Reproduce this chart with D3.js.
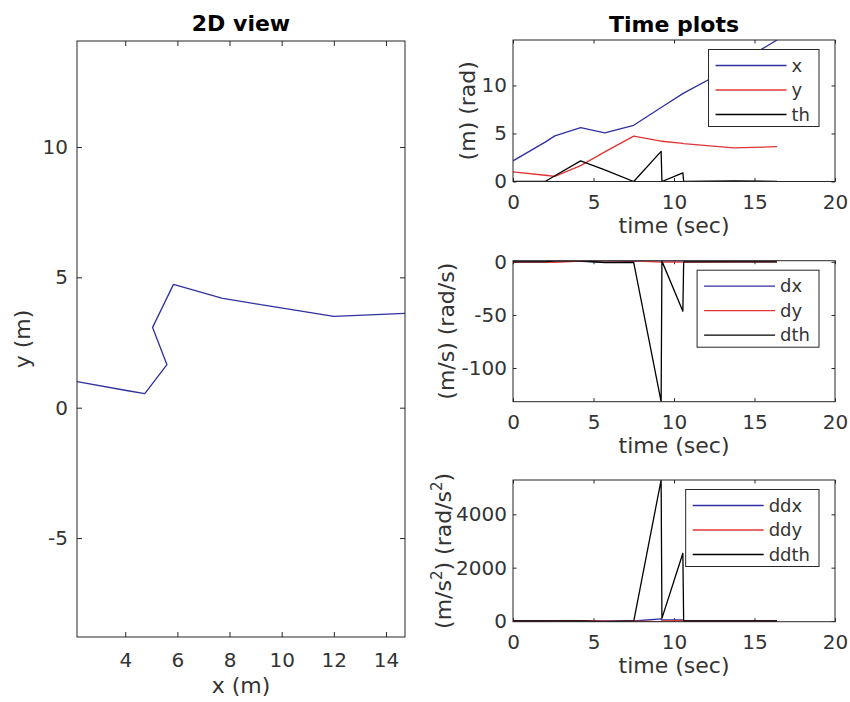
<!DOCTYPE html>
<html>
<head>
<meta charset="utf-8">
<script src="https://cdn.jsdelivr.net/npm/d3@7"></script>
<style>
  body { margin: 0; background: #fff; }
  svg { font-family: "DejaVu Sans", sans-serif; }
</style>
</head>
<body>
<svg id="fig" width="850" height="702"></svg>
<script>
// pose samples (time in sec)
const t    = [0,    2.0,  2.6,  4.2,  5.7,  7.5,  9.2,  9.25, 10.55, 10.6, 13.7, 16.4];
const xPos = [2.15, 4.1,  4.75, 5.6,  5.05, 5.85, 7.7,  7.75, 9.15,  9.2,  12.0, 14.73];
const yPos = [1.0,  0.65, 0.54, 1.65, 3.08, 4.73, 4.2,  4.19, 3.96,  3.95, 3.5,  3.62];
const th   = [0,    0,    0.6,  2.15, 1.2,  0,    3.14, 0,    0.9,   0.02, 0.05, 0.02];

// first derivatives
const dx   = [1.0,  1.0,  0.9,  0.5, -0.4,  0.45, 1.1,  1.0,  1.05,  1.0,  0.95, 1.0];
const dy   = [-0.2, -0.2, -0.5, 0.7,  1.0,  0.9, -0.3, -0.2, -0.2,  -0.2,  0.1,  0.05];
const dth  = [0,    0,    1.0,  1.0, -0.6, -0.6, -131.7, 0.7, -46.5, 0,     0,    0];

// second derivatives
const ddx  = [0,    0,   -5,  -10,    8,    0,   80,    40,   40,    0,     0,    0];
const ddy  = [0,    0,    5,   10,   -5,  -10,  -20,    0,    10,    0,     0,    0];
const ddth = [0,    0,    5,    0,  -26,    0, 5287,  100,  2540,    0,     0,    0];

const tLim = [0, 20];
const tTicks = [0, 5, 10, 15, 20];
const x2dTicks = [4, 6, 8, 10, 12, 14];
const y2dTicks = [-5, 0, 5, 10];
const posTicks = [0, 5, 10];
const dTicks = [-100, -50, 0];
const ddTicks = [0, 2000, 4000];

const axisColor = '#262626';
const textColor = '#333';
const blue = '#3030a0';
const red = '#e03434';
const black = '#000';

const svg = d3.select('#fig');
let clipId = 0;

function drawPanel(cfg) {
    let w = cfg.right - cfg.left;
    let h = cfg.bottom - cfg.top;
    let g = svg.append('g').attr('transform', `translate(${cfg.left},${cfg.top})`);

    let x = d3.scaleLinear().domain(cfg.xDomain).range([0, w]);
    let y = d3.scaleLinear().domain(cfg.yDomain).range([h, 0]);

    g.append('rect').attr('width', w).attr('height', h).attr('fill', '#fff');

    let fmt = d => String(d);
    let styleAxis = sel => {
        sel.select('.domain').remove();
        sel.selectAll('line').attr('stroke', axisColor);
        sel.selectAll('text').attr('fill', textColor).style('font-size', '20px')
            .style('font-family', '"DejaVu Sans", sans-serif');
    };

    g.append('g').attr('transform', `translate(0,${h})`)
        .call(d3.axisBottom(x).tickValues(cfg.xTicks).tickFormat(fmt)
            .tickSizeInner(-cfg.tickLen).tickSizeOuter(0).tickPadding(cfg.xPad))
        .call(styleAxis);
    g.append('g')
        .call(d3.axisLeft(y).tickValues(cfg.yTicks).tickFormat(fmt)
            .tickSizeInner(-cfg.tickLen).tickSizeOuter(0).tickPadding(cfg.yPad))
        .call(styleAxis);
    g.append('g')
        .call(d3.axisTop(x).tickValues(cfg.xTicks).tickFormat('')
            .tickSizeInner(-cfg.tickLen).tickSizeOuter(0))
        .call(styleAxis);
    g.append('g').attr('transform', `translate(${w},0)`)
        .call(d3.axisRight(y).tickValues(cfg.yTicks).tickFormat('')
            .tickSizeInner(-cfg.tickLen).tickSizeOuter(0))
        .call(styleAxis);

    let id = 'clip' + (clipId++);
    g.append('clipPath').attr('id', id)
        .append('rect').attr('width', w).attr('height', h);
    let plot = g.append('g').attr('clip-path', `url(#${id})`);

    cfg.series.forEach(s => {
        let line = d3.line()
            .x((d, i) => x(s.xs[i]))
            .y(d => y(d));
        plot.append('path')
            .datum(s.ys)
            .attr('fill', 'none')
            .attr('stroke', s.color)
            .attr('stroke-width', 1.3)
            .attr('stroke-linejoin', 'round')
            .attr('d', line);
    });

    g.append('rect').attr('width', w).attr('height', h)
        .attr('fill', 'none').attr('stroke', axisColor).attr('stroke-width', 1);

    // title
    if (cfg.title) {
        g.append('text')
            .attr('x', w / 2).attr('y', cfg.titleY - cfg.top)
            .attr('text-anchor', 'middle')
            .style('font-size', '22px').style('font-weight', 'bold')
            .attr('fill', '#000')
            .text(cfg.title);
    }

    // x label
    g.append('text')
        .attr('x', w / 2).attr('y', h + cfg.xLabelDy)
        .attr('text-anchor', 'middle')
        .style('font-size', '22px').attr('fill', textColor)
        .text(cfg.xLabel);

    // y label, parts may carry a superscript
    let yl = g.append('text')
        .attr('transform', `translate(${cfg.yLabelX - cfg.left},${h / 2}) rotate(-90)`)
        .attr('text-anchor', 'middle')
        .style('font-size', '22px').attr('fill', textColor);
    let shift = 0;
    cfg.yLabel.forEach(p => {
        let ts = yl.append('tspan').text(p.s);
        if (p.sup) {
            ts.style('font-size', '15px').attr('dy', -9);
            shift = 9;
        } else if (shift) {
            ts.attr('dy', shift);
            shift = 0;
        }
    });

    if (cfg.legend) drawLegend(g, w, cfg.series);
    return g;
}

function drawLegend(g, w, series) {
    let lg = g.append('g');
    let box = lg.append('rect');
    let texts = series.map(s => lg.append('text')
        .style('font-size', '18px').attr('fill', textColor).text(s.label));
    let maxW = d3.max(texts, tx => tx.node().getComputedTextLength());

    let boxRight = w - 16;
    let textX = boxRight - 9 - maxW;
    let lineEnd = textX - 5;
    let lineStart = lineEnd - 71;
    let boxLeft = lineStart - 7;
    let boxTop = 9.5;
    let rowGap = 24.5;

    box.attr('x', boxLeft).attr('y', boxTop)
        .attr('width', boxRight - boxLeft).attr('height', 77)
        .attr('fill', '#fff').attr('stroke', axisColor).attr('stroke-width', 1);

    series.forEach((s, i) => {
        let cy = boxTop + 16 + i * rowGap;
        lg.append('line')
            .attr('x1', lineStart).attr('x2', lineEnd)
            .attr('y1', cy).attr('y2', cy)
            .attr('stroke', s.color).attr('stroke-width', 1.3);
        texts[i].attr('x', textX).attr('y', cy).attr('dy', '0.35em');
    });
}

// 2D view: equal aspect, x tight to the data
let box2d = { left: 77, top: 41, right: 405, bottom: 637 };
let xExt = d3.extent(xPos);
let pxPerUnit = (box2d.right - box2d.left) / (xExt[1] - xExt[0]);
let ySpan = (box2d.bottom - box2d.top) / pxPerUnit;
let yExt = d3.extent(yPos);
let yMid = (yExt[0] + yExt[1]) / 2;

drawPanel(Object.assign({}, box2d, {
    xDomain: xExt,
    yDomain: [yMid - ySpan / 2, yMid + ySpan / 2],
    xTicks: x2dTicks, yTicks: y2dTicks,
    tickLen: 5, xPad: 15.8, yPad: 9,
    title: '2D view', titleY: 31,
    xLabel: 'x (m)', xLabelDy: 56,
    yLabel: [{ s: 'y (m)' }], yLabelX: 30,
    series: [{ xs: xPos, ys: yPos, color: blue }]
}));

let timeCommon = {
    left: 513, right: 835,
    xDomain: tLim, xTicks: tTicks,
    tickLen: 3.5, xPad: 12.8, yPad: 6,
    xLabel: 'time (sec)', xLabelDy: 51,
    legend: true
};

drawPanel(Object.assign({}, timeCommon, {
    top: 40, bottom: 181.5,
    yDomain: d3.extent(xPos.concat(yPos, th)),
    yTicks: posTicks,
    title: 'Time plots', titleY: 32,
    yLabel: [{ s: '(m) (rad)' }], yLabelX: 475,
    series: [
        { xs: t, ys: xPos, color: blue, label: 'x' },
        { xs: t, ys: yPos, color: red, label: 'y' },
        { xs: t, ys: th, color: black, label: 'th' }
    ]
}));

drawPanel(Object.assign({}, timeCommon, {
    top: 260.7, bottom: 401.7,
    yDomain: d3.extent(dx.concat(dy, dth)),
    yTicks: dTicks,
    yLabel: [{ s: '(m/s) (rad/s)' }], yLabelX: 454,
    series: [
        { xs: t, ys: dx, color: blue, label: 'dx' },
        { xs: t, ys: dy, color: red, label: 'dy' },
        { xs: t, ys: dth, color: black, label: 'dth' }
    ]
}));

drawPanel(Object.assign({}, timeCommon, {
    top: 480, bottom: 621.7,
    yDomain: d3.extent(ddx.concat(ddy, ddth)),
    yTicks: ddTicks,
    yLabel: [{ s: '(m/s' }, { s: '2', sup: true }, { s: ') (rad/s' }, { s: '2', sup: true }, { s: ')' }],
    yLabelX: 451,
    series: [
        { xs: t, ys: ddx, color: blue, label: 'ddx' },
        { xs: t, ys: ddy, color: red, label: 'ddy' },
        { xs: t, ys: ddth, color: black, label: 'ddth' }
    ]
}));
</script>
</body>
</html>
